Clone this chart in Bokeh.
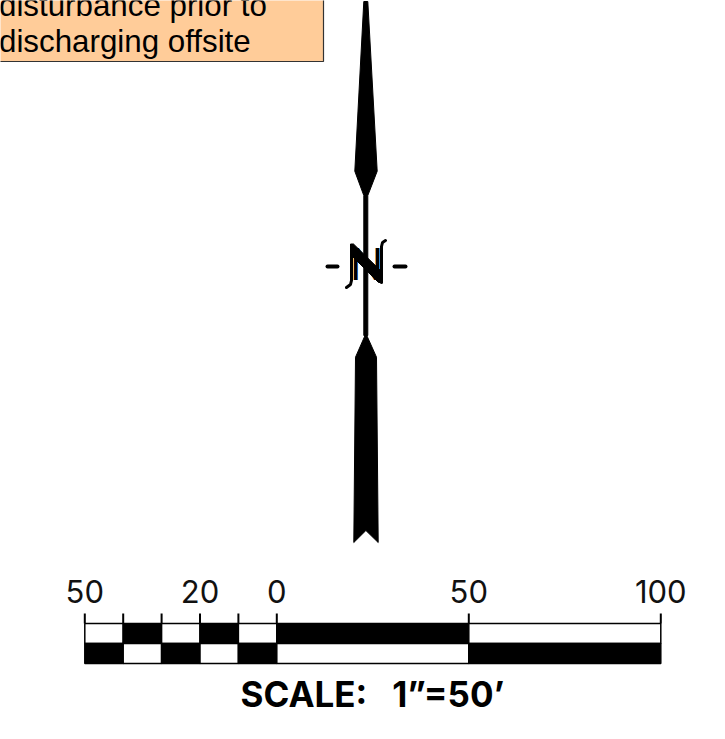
from bokeh.plotting import figure
from bokeh.models import Range1d
from bokeh.core.properties import value
from bokeh.embed import file_html
from bokeh.resources import INLINE

# Scale bar, in feet
tick_feet = [-50, -40, -30, -20, -10, 0, 50, 100]
label_feet = [-50, -20, 0, 50, 100]
label_text = ["50", "20", "0", "50", "100"]
seg_left = [-50, -40, -30, -20, -10, 0, 50]
seg_right = [-40, -30, -20, -10, 0, 50, 100]
top_row = ["white", "black", "white", "black", "white", "black", "white"]
bottom_row = ["black", "white", "black", "white", "black", "white", "black"]
scale_title = "SCALE:\u00a0\u00a0\u00a01\u201d=50\u2019"
note_lines = ["disturbance prior to", "discharging offsite"]

# North arrow outline
top_x = [363.3, 367.3, 376.7, 367.3, 367.3, 363.3, 363.3, 354.3]
top_y = [1, 1, 170.7, 195, 335, 335, 195, 170.7]
tail_x = [365.4, 376, 377.7, 365.4, 353.3, 355]
tail_y = [333, 356.7, 542, 530, 542, 356.7]
diag_x = [350, 353, 382, 382, 378, 350]
diag_y = [243.5, 243.5, 272, 282, 282, 254]
hook_l_x = [351, 351, 350, 346]
hook_l_y = [245, 280, 284, 287]
hook_r_x = [381, 381, 382, 385]
hook_r_y = [282, 246, 242, 240]

W, H = 709, 723
p = figure(width=W, height=H, output_backend="svg", toolbar_location=None,
           x_range=Range1d(0, W), y_range=Range1d(H, 0), min_border=0,
           outline_line_color=None, border_fill_color="white")
p.axis.visible = False
p.grid.visible = False
p.extra_x_ranges["feet"] = Range1d(-276.3 / 3.84, (W - 276.3) / 3.84)

# Note box
p.quad(left=[-10], right=[323], top=[-10], bottom=[61], fill_color="#FFCC99",
       line_color="#333333", line_width=1.2)
p.text(x=[-1.5, -1.5], y=[4.5, 41], text=note_lines, text_font=value("Liberation Sans"),
       text_font_size="31.3px", text_color="#000000", text_baseline="middle")

# Compass
p.patch(top_x, top_y, color="black")
p.patch(tail_x, tail_y, color="black")
p.text(x=[366], y=[263], text=["N"], text_font=value("Liberation Sans"),
       text_font_size="46px", text_align="center", text_baseline="middle", text_color="black")
p.patch(diag_x, diag_y, color="black")
p.line(hook_l_x, hook_l_y, line_color="black", line_width=3, line_cap="round")
p.line(hook_r_x, hook_r_y, line_color="black", line_width=3, line_cap="round")
p.segment([327, 394], [266, 266], [337, 405], [266, 266], line_color="black", line_width=4, line_cap="round")

# Scale bar
p.quad(left=seg_left, right=seg_right, top=[623] * 7, bottom=[643] * 7, fill_color=top_row,
       line_color="black", line_width=1.5, x_range_name="feet")
p.quad(left=seg_left, right=seg_right, top=[643] * 7, bottom=[663] * 7, fill_color=bottom_row,
       line_color="black", line_width=1.5, x_range_name="feet")
p.segment(tick_feet, [613] * 8, tick_feet, [623] * 8, line_color="black", line_width=2, x_range_name="feet")
p.text(x=label_feet, y=[591] * 5, text=label_text, text_font=value("Inter"), text_font_size="31px",
       text_align="center", text_baseline="middle", text_color="#111111", x_range_name="feet")
p.text(x=[372], y=[693], text=[scale_title], text_font=value("Inter"), text_font_style="bold", text_font_size="35px",
       text_align="center", text_baseline="middle", text_color="black")

open("out.html", "w").write(file_html(p, INLINE))
